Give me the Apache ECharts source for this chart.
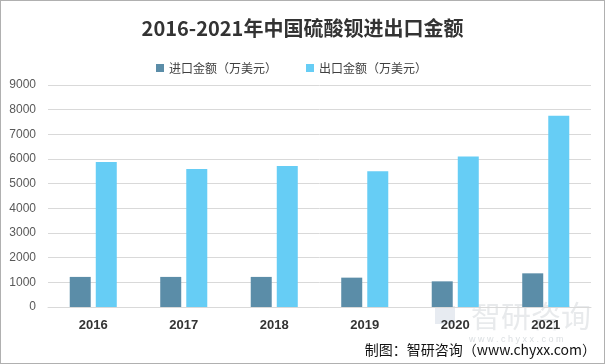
<!DOCTYPE html>
<html><head><meta charset="utf-8">
<script src="https://cdn.jsdelivr.net/npm/echarts@6/dist/echarts.min.js"></script>
<style>html,body{margin:0;padding:0;background:#fff}#c{width:605px;height:364px;box-sizing:border-box;border:1px solid #b0b0b0}</style>
</head><body><div id="c"></div>
<script>
var categories = ['2016','2017','2018','2019','2020','2021'];
var importValues = [1220, 1220, 1220, 1190, 1040, 1365];
var exportValues = [5880, 5590, 5720, 5500, 6100, 7750];
var seriesNames = ['进口金额（万美元）','出口金额（万美元）'];
var chart = echarts.init(document.getElementById('c'));
chart.setOption({
  animation:false,
  title:{text:'2016-2021年中国硫酸钡进出口金额',left:'center',top:12,textStyle:{fontSize:20,fontWeight:'bold',color:'#333',fontFamily:'Noto Sans CJK SC'}},
  legend:{top:56,left:150,itemWidth:8,itemHeight:8,itemGap:29,itemStyle:{borderWidth:0},icon:'rect',textStyle:{fontSize:12,color:'#404040',fontFamily:'Noto Sans CJK SC'},data:seriesNames},
  grid:{left:47,right:13,top:84,bottom:56,containLabel:false},
  xAxis:{type:'category',data:categories,axisLine:{lineStyle:{color:'#d9d9d9'}},axisTick:{show:false},axisLabel:{fontSize:13,fontWeight:'bold',color:'#333',margin:12}},
  yAxis:{type:'value',min:0,max:9000,interval:1000,axisLine:{show:false},axisTick:{show:false},splitLine:{lineStyle:{color:'#d9d9d9'}},axisLabel:{fontSize:12,color:'#595959',margin:12,formatter:function(v){return String(v);}}},
  series:[
    {name:seriesNames[0],type:'bar',data:importValues,barWidth:21,barGap:'24%',itemStyle:{color:'#5b8da8'}},
    {name:seriesNames[1],type:'bar',data:exportValues,barWidth:21,itemStyle:{color:'#66cdf5'}}
  ],
  graphic:[
    {type:'rect',left:434,top:305,shape:{width:20,height:18},z:-1,style:{fill:'rgba(120,145,175,0.18)'}},
    {type:'text',left:470,top:300,z:-1,style:{text:'智研咨询',fontSize:30,fill:'rgba(150,160,170,0.22)',fontFamily:'Noto Sans CJK SC'}},
    {type:'text',left:468,top:334,z:-1,style:{text:'w w w . c h y x x . c o m',fontSize:9,fill:'rgba(150,160,170,0.35)'}},
    {type:'text',right:8,top:342,style:{text:'制图：智研咨询（www.chyxx.com）',fontSize:14,fill:'#111',fontFamily:'Noto Sans CJK SC'}}
  ]
});
</script></body></html>
